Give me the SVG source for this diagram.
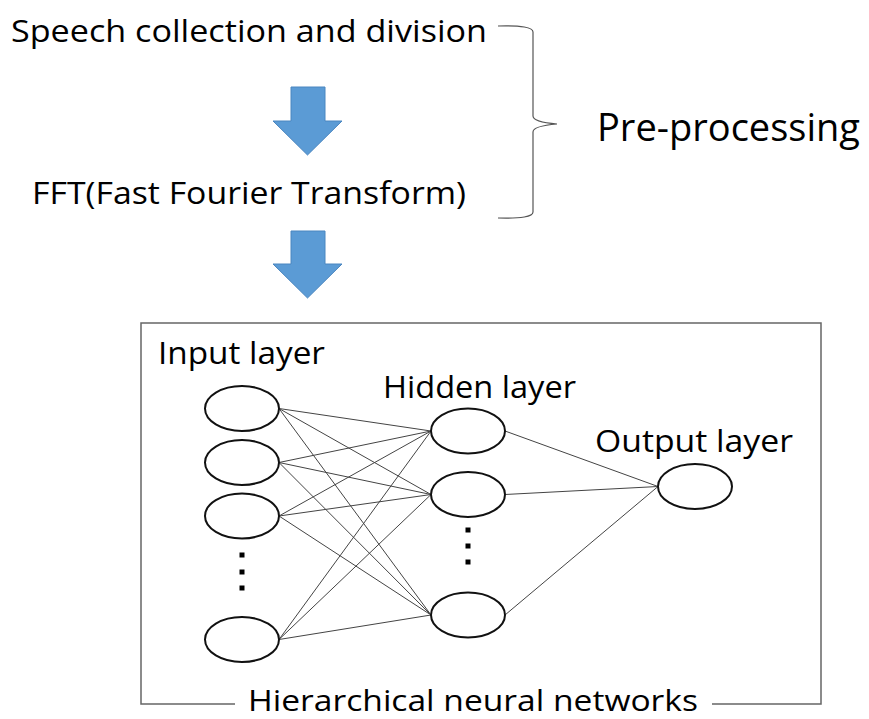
<svg xmlns="http://www.w3.org/2000/svg" width="869" height="719" viewBox="0 0 869 719">
<style>
text{font-family:"Open Sans","Noto Sans","Liberation Sans",sans-serif;fill:#000}
.t31{font-size:31px}
.t29{font-size:29px}
.t38{font-size:38px}
.node{fill:#fff;stroke:#111;stroke-width:2}
.link{stroke:#444;stroke-width:1;fill:none}
.arrow{fill:#5b9bd5;stroke:#4a86c0;stroke-width:1}
.frame{stroke:#666;stroke-width:1.5;fill:none}
.dot{fill:#000}
</style>
<rect width="869" height="719" fill="#fff"/>
<g id="step-speech"><text class="t31" x="11" y="42" textLength="476" lengthAdjust="spacingAndGlyphs">Speech collection and division</text></g>
<g id="step-fft"><text class="t31" x="32" y="204" textLength="434" lengthAdjust="spacingAndGlyphs">FFT(Fast Fourier Transform)</text></g>
<g id="preprocessing">
<path class="frame" d="M498,26 Q533,25 533,32 L533,116 Q533,122 557,124 Q533,126 533,132 L533,212 Q533,219 498,218" style="stroke:#555;stroke-width:1.2"/>
<text class="t38" x="597" y="141" textLength="263" lengthAdjust="spacingAndGlyphs">Pre-processing</text>
</g>
<g id="arrows">
<path class="arrow" d="M291,87 H325 V121 H342 L307.5,155 L273,121 H291 Z"/>
<path class="arrow" d="M291,231 H325 V264 H342 L307.5,298 L273,264 H291 Z"/>
</g>
<g id="hnn-frame">
<path class="frame" d="M235,704 H141 V323 H821 V704 H712"/>
<text class="t29" x="248" y="711" textLength="450" lengthAdjust="spacingAndGlyphs">Hierarchical neural networks</text>
</g>
<g id="connectors">
<line class="link" x1="279" y1="408.5" x2="431" y2="431"/>
<line class="link" x1="279" y1="408.5" x2="431" y2="494.5"/>
<line class="link" x1="279" y1="408.5" x2="431" y2="615"/>
<line class="link" x1="279" y1="462.5" x2="431" y2="431"/>
<line class="link" x1="279" y1="462.5" x2="431" y2="494.5"/>
<line class="link" x1="279" y1="462.5" x2="431" y2="615"/>
<line class="link" x1="279" y1="516" x2="431" y2="431"/>
<line class="link" x1="279" y1="516" x2="431" y2="494.5"/>
<line class="link" x1="279" y1="516" x2="431" y2="615"/>
<line class="link" x1="279" y1="639.5" x2="431" y2="431"/>
<line class="link" x1="279" y1="639.5" x2="431" y2="494.5"/>
<line class="link" x1="279" y1="639.5" x2="431" y2="615"/>
<line class="link" x1="505" y1="431" x2="658" y2="486.5"/>
<line class="link" x1="505" y1="494.5" x2="658" y2="486.5"/>
<line class="link" x1="505" y1="615" x2="658" y2="486.5"/>
</g>
<g id="input-layer">
<text class="t31" x="158" y="364" textLength="167" lengthAdjust="spacingAndGlyphs">Input layer</text>
<ellipse class="node" cx="242" cy="408.5" rx="37" ry="22.5"/>
<ellipse class="node" cx="242" cy="462.5" rx="37" ry="22.5"/>
<ellipse class="node" cx="242" cy="516" rx="37" ry="22.5"/>
<rect class="dot" x="239.5" y="552.5" width="5" height="5"/>
<rect class="dot" x="239.5" y="569.5" width="5" height="5"/>
<rect class="dot" x="239.5" y="585.5" width="5" height="5"/>
<ellipse class="node" cx="242" cy="639.5" rx="37" ry="22.5"/>
</g>
<g id="hidden-layer">
<text class="t31" x="383" y="398" textLength="193" lengthAdjust="spacingAndGlyphs">Hidden layer</text>
<ellipse class="node" cx="468" cy="431" rx="37" ry="22.5"/>
<ellipse class="node" cx="468" cy="494.5" rx="37" ry="22.5"/>
<rect class="dot" x="465.5" y="527.5" width="5" height="5"/>
<rect class="dot" x="465.5" y="543.5" width="5" height="5"/>
<rect class="dot" x="465.5" y="559.5" width="5" height="5"/>
<ellipse class="node" cx="468" cy="615" rx="37" ry="22.5"/>
</g>
<g id="output-layer">
<text class="t31" x="595" y="452" textLength="198" lengthAdjust="spacingAndGlyphs">Output layer</text>
<ellipse class="node" cx="695" cy="486.5" rx="37" ry="22.5"/>
</g>
</svg>
